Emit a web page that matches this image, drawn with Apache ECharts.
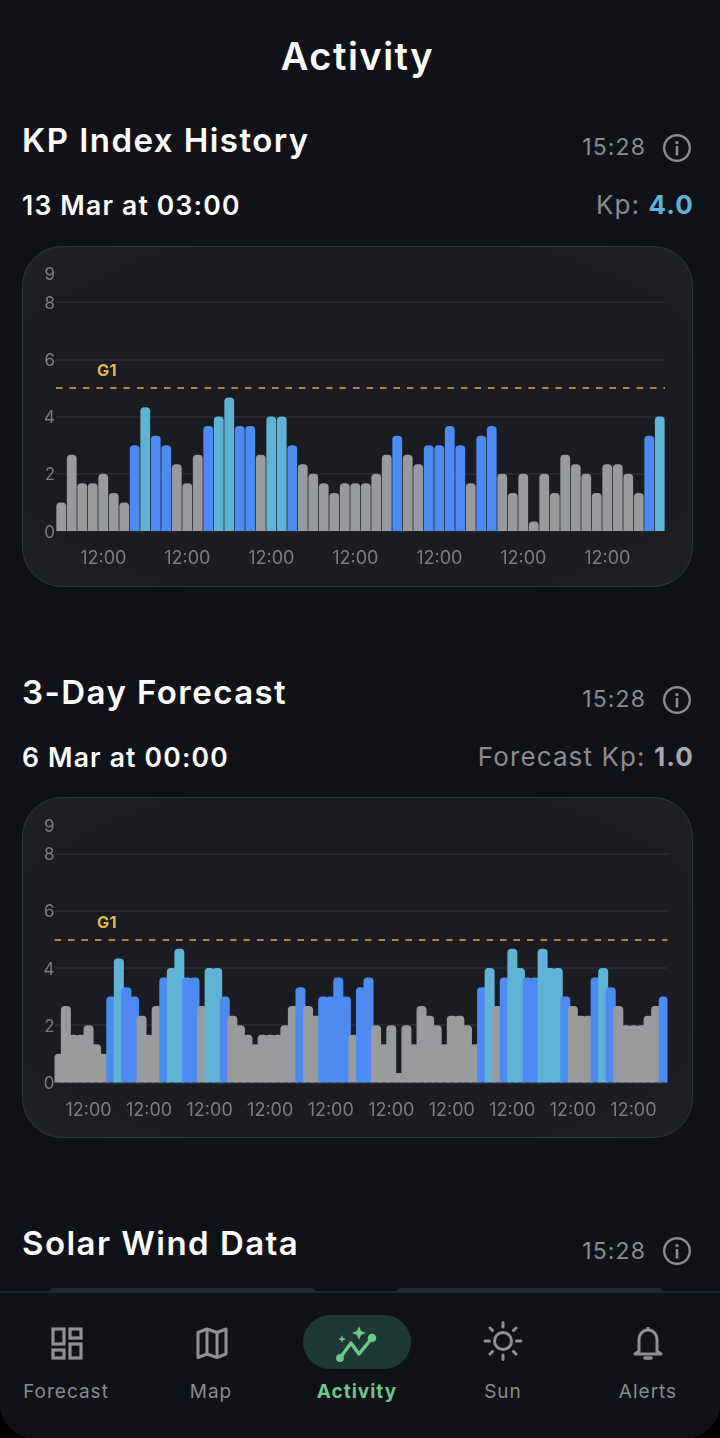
<!DOCTYPE html>
<html><head><meta charset="utf-8">
<script src="https://cdn.jsdelivr.net/npm/echarts@6/dist/echarts.min.js"></script>
<style>
html,body{margin:0;padding:0;background:#000;}
#screen{position:relative;width:720px;height:1438px;overflow:hidden;background:#101218;border-radius:0 0 34px 34px;font-family:Inter,"Noto Sans",sans-serif;}
.t{position:absolute;white-space:nowrap;line-height:1;transform:translateY(-50%);}
.card{position:absolute;left:22px;width:669px;height:339px;border:1.5px solid #303338;border-radius:40px;background:radial-gradient(ellipse at center,#1a1c21 75%,#1f2125 100%);}
.h1{font-size:38px;font-weight:600;color:#fff;letter-spacing:1.5px;left:0;width:715px;text-align:center;}
.h2{left:22px;font-size:33px;font-weight:600;color:#fff;letter-spacing:1.45px;}
.sub{left:22px;font-size:26.5px;font-weight:600;color:#fff;letter-spacing:1.2px;}
.time{right:74px;font-size:23px;font-weight:400;color:#8b8b90;letter-spacing:1.1px;}
.val{right:26px;font-size:26px;font-weight:400;color:#8b8b90;letter-spacing:1.1px;}
.val b{font-weight:700;}
.info{position:absolute;left:662px;width:30px;height:30px;}
#chart{position:absolute;left:0;top:0;width:720px;height:1438px;}
#nav{position:absolute;left:0;top:1291px;width:720px;height:147px;background:#101218;border-top:2px solid #1d2a2d;box-sizing:border-box;}
.peek{position:absolute;top:1288px;height:4px;background:#1d2a2d;border-radius:4px 4px 0 0;}
.pill{position:absolute;left:303px;top:22px;width:108px;height:54px;border-radius:27px;background:#1e3834;}
.lab{position:absolute;top:98px;transform:translate(-50%,-50%);font-size:19px;letter-spacing:1px;color:#8a8a8f;line-height:1;white-space:nowrap;}
.ic{position:absolute;}
</style></head><body>
<div id="screen">
  <div class="t h1" style="top:56px">Activity</div>

  <div class="t h2" style="top:140px">KP Index History</div>
  <div class="t time" style="top:147px">15:28</div>
  <svg class="info" style="top:133px" viewBox="0 0 30 30"><circle cx="15" cy="15" r="12.8" fill="none" stroke="#8b8b90" stroke-width="2.4"/><circle cx="15" cy="9.6" r="1.7" fill="#8b8b90"/><rect x="13.7" y="13" width="2.6" height="9.5" fill="#8b8b90"/></svg>
  <div class="t sub" style="top:205px">13 Mar at 03:00</div>
  <div class="t val" style="top:205px">Kp: <b style="color:#5fb4d6">4.0</b></div>
  <div class="card" style="top:246px"></div>

  <div class="t h2" style="top:692px">3-Day Forecast</div>
  <div class="t time" style="top:699px">15:28</div>
  <svg class="info" style="top:685px" viewBox="0 0 30 30"><circle cx="15" cy="15" r="12.8" fill="none" stroke="#8b8b90" stroke-width="2.4"/><circle cx="15" cy="9.6" r="1.7" fill="#8b8b90"/><rect x="13.7" y="13" width="2.6" height="9.5" fill="#8b8b90"/></svg>
  <div class="t sub" style="top:757px">6 Mar at 00:00</div>
  <div class="t val" style="top:757px">Forecast Kp: <b style="color:#a8a8ac">1.0</b></div>
  <div class="card" style="top:797px"></div>

  <div class="t h2" style="top:1243px">Solar Wind Data</div>
  <div class="t time" style="top:1251px">15:28</div>
  <svg class="info" style="top:1236px" viewBox="0 0 30 30"><circle cx="15" cy="15" r="12.8" fill="none" stroke="#8b8b90" stroke-width="2.4"/><circle cx="15" cy="9.6" r="1.7" fill="#8b8b90"/><rect x="13.7" y="13" width="2.6" height="9.5" fill="#8b8b90"/></svg>

  <div id="chart"></div>

  <div class="peek" style="left:50px;width:265px"></div>
  <div class="peek" style="left:397px;width:266px"></div>
  <div id="nav">
    <div class="pill"></div>
    <svg class="ic" style="left:50px;top:33px" width="34" height="34" viewBox="0 0 34 34" fill="none" stroke="#8f8f94" stroke-width="3.2"><rect x="3" y="3" width="11" height="15"/><rect x="20" y="3" width="11" height="9"/><rect x="3" y="24" width="11" height="8"/><rect x="20" y="18" width="11" height="14"/></svg>
    <svg class="ic" style="left:195px;top:33px" width="34" height="34" viewBox="0 0 34 34" fill="none" stroke="#8f8f94" stroke-width="3" stroke-linejoin="round"><path d="M3 6.5 L12 3 L22 6.5 L31 3 V28 L22 31.5 L12 28 L3 31.5 Z"/><path d="M12 3 V28 M22 6.5 V31.5"/></svg>
    <svg class="ic" style="left:336px;top:32px" width="42" height="38" viewBox="0 0 42 38" fill="none" stroke="#6cc78a" stroke-width="3.4" stroke-linecap="round" stroke-linejoin="round"><path d="M4 33 L15 18 L23 29 L36 13"/><circle cx="4" cy="33" r="2.2" fill="#6cc78a"/><circle cx="36" cy="13" r="2.6" fill="#6cc78a"/><path d="M23 1 L25 6 L30 8 L25 10 L23 15 L21 10 L16 8 L21 6 Z" fill="#6cc78a" stroke="none"/><path d="M6 10 L7 13 L10 14 L7 15 L6 18 L5 15 L2 14 L5 13 Z" fill="#6cc78a" stroke="none"/></svg>
    <svg class="ic" style="left:483px;top:27px" width="40" height="42" viewBox="0 0 40 42" fill="none" stroke="#8f8f94" stroke-width="3" stroke-linecap="round"><circle cx="20" cy="21" r="8.5"/><path d="M20 2.5 V7 M20 35 V39.5 M2 21 H6.5 M33.5 21 H38 M7 8 L9.5 10.5 M33 8 L30.5 10.5 M7 34 L9.5 31.5 M33 34 L30.5 31.5"/></svg>
    <svg class="ic" style="left:632px;top:31px" width="32" height="38" viewBox="0 0 32 38" fill="none" stroke="#8f8f94" stroke-width="3" stroke-linejoin="round"><path d="M16 3 V6 M7 27 V16 C7 10 11 6 16 6 C21 6 25 10 25 16 V27 L29 30 H3 Z"/><path d="M13 34 H19" stroke-width="3.4" stroke-linecap="round"/></svg>
    <div class="lab" style="left:66px">Forecast</div>
    <div class="lab" style="left:211px">Map</div>
    <div class="lab" style="left:357px;color:#6cc78a;font-weight:700">Activity</div>
    <div class="lab" style="left:503px">Sun</div>
    <div class="lab" style="left:648px">Alerts</div>
  </div>
</div>
<script>
var hoursOfDay = ['00:00','03:00','06:00','09:00','12:00','15:00','18:00','21:00'];
var yTop = 9;
var stormLevel = 5;
var historyValues = [1,2.67,1.67,1.67,2,1.33,1,3,4.33,3.33,3,2.33,1.67,2.67,3.67,4,4.67,3.67,3.67,2.67,4,4,3,2.33,2,1.67,1.33,1.67,1.67,1.67,2,2.67,3.33,2.67,2.33,3,3,3.67,3,1.67,3.33,3.67,2,1.33,2,0.33,2,1.33,2.67,2.33,2,1.33,2.33,2.33,2,1.33,3.33,4];
var forecastValues = [1,2.67,1.67,1.67,2,1.33,1,3,4.33,3.33,3,2.33,1.67,2.67,3.67,4,4.67,3.67,3.67,2.67,4,4,3,2.33,2,1.67,1.33,1.67,1.67,1.67,2,2.67,3.33,2.67,2.33,3,3,3.67,3,1.67,3.33,3.67,2,1.33,2,0.33,2,1.33,2.67,2.33,2,1.33,2.33,2.33,2,1.33,3.33,4,2.67,3.67,4.67,4,3.67,3.67,4.67,4,4,3,2.67,2.33,2.33,3.67,4,3.33,2.67,2,2,2,2.33,2.67,3];

function barColor(p){ return p.value>=4 ? '#5fb3d4' : p.value>=3 ? '#4d8bf2' : '#999a9c'; }
function cats(vals){ return vals.map(function(_,i){ return hoursOfDay[i%hoursOfDay.length]; }); }
function xAxis(idx,vals){ return {type:'category',gridIndex:idx,data:cats(vals),
  axisLine:{show:false},axisTick:{show:false},splitLine:{show:false},
  axisLabel:{interval:function(i){return i%8===4;},color:'#7c7d81',fontSize:18,fontFamily:'Inter',margin:19}}; }
function yAxis(idx,margin){ return {type:'value',gridIndex:idx,min:0,max:yTop,interval:2,
  axisLine:{show:false},axisTick:{show:false},
  splitLine:{show:true,showMaxLine:false,lineStyle:{color:'#2b2d32',width:1.5}},
  axisLabel:{formatter:'{n|{value}}',margin:margin,
    rich:{n:{color:'#7c7d81',fontSize:17,fontFamily:'Inter',padding:[3,0,0,0]}}}}; }
function series(idx,vals,w,labelX){ return {type:'bar',xAxisIndex:idx,yAxisIndex:idx,data:vals,barWidth:w,
  itemStyle:{color:barColor,borderRadius:[4,4,0,0]},
  markLine:{silent:true,symbol:'none',animation:false,
    lineStyle:{color:'#d9ad3c',type:[6.5,7],width:1.6},
    label:{formatter:'G1',position:'insideStartTop',distance:[labelX,8],color:'#e2b93f',fontSize:16.5,fontWeight:700,fontFamily:'Inter'},
    data:[{yAxis:stormLevel}]}}; }

var chart = echarts.init(document.getElementById('chart'),null,{renderer:'canvas'});
chart.setOption({animation:false,backgroundColor:'transparent',
  grid:[{left:56,width:609,top:273.6,height:257.4},{left:54.5,width:613,top:825,height:257.4}],
  xAxis:[xAxis(0,historyValues),xAxis(1,forecastValues)],
  yAxis:[yAxis(0,1),yAxis(1,0)],
  series:[series(0,historyValues,9.8,41),series(1,forecastValues,10,42.5)]});
</script>
</body></html>
